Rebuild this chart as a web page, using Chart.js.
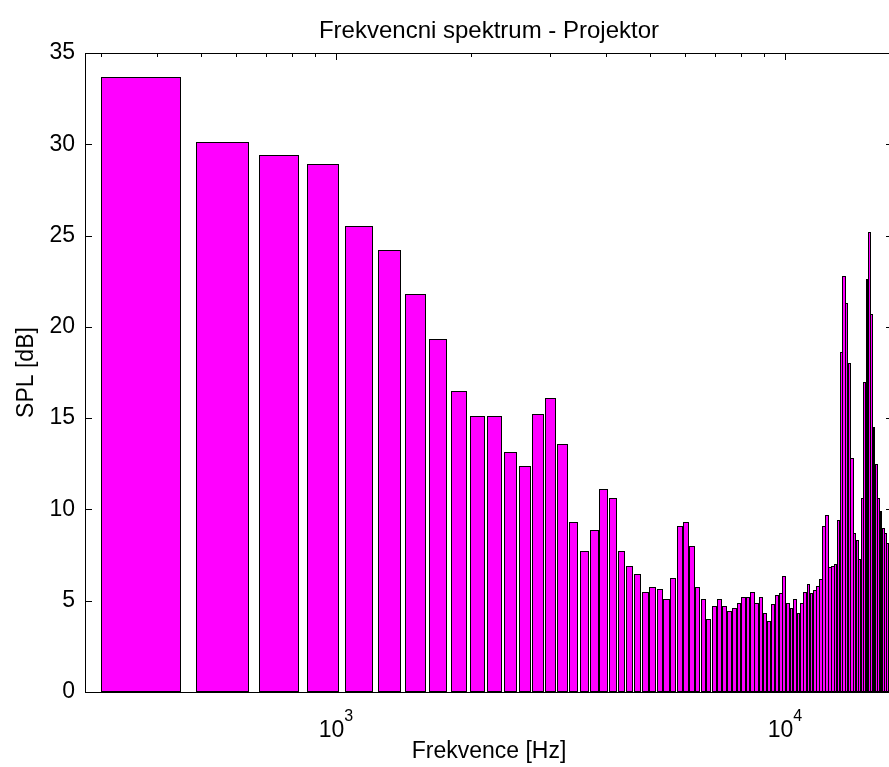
<!DOCTYPE html>
<html>
<head>
<meta charset="utf-8">
<title>Frekvencni spektrum - Projektor</title>
<script src="https://cdn.jsdelivr.net/npm/chart.js@4.4.1/dist/chart.umd.min.js"></script>
<style>
  html, body { margin: 0; padding: 0; background: #fff; overflow: hidden; }
  canvas { display: block; }
</style>
</head>
<body>
<canvas id="spektrum" width="897" height="767"></canvas>
<script>
// stredy pasem [Hz]
const frekvence = [
  375, 562.5, 750, 937.5, 1125, 1312.5, 1500, 1687.5, 1875, 2062.5,
  2250, 2437.5, 2625, 2812.5, 3000, 3187.5, 3375, 3562.5, 3750, 3937.5,
  4125, 4312.5, 4500, 4687.5, 4875, 5062.5, 5250, 5437.5, 5625, 5812.5,
  6000, 6187.5, 6375, 6562.5, 6750, 6937.5, 7125, 7312.5, 7500, 7687.5,
  7875, 8062.5, 8250, 8437.5, 8625, 8812.5, 9000, 9187.5, 9375, 9562.5,
  9750, 9937.5, 10125, 10312.5, 10500, 10687.5, 10875, 11062.5, 11250, 11437.5,
  11625, 11812.5, 12000, 12187.5, 12375, 12562.5, 12750, 12937.5, 13125, 13312.5,
  13500, 13687.5, 13875, 14062.5, 14250, 14437.5, 14625, 14812.5, 15000, 15187.5,
  15375, 15562.5, 15750, 15937.5, 16125, 16312.5, 16500, 16687.5, 16875, 17062.5,
];

// SPL [dB]
const hladiny = [
  33.7, 30.1, 29.4, 28.9, 25.5, 24.2, 21.8, 19.35, 16.5, 15.1,
  15.1, 13.15, 12.4, 15.2, 16.1, 13.6, 9.3, 7.7, 8.9, 11.1,
  10.6, 7.7, 6.9, 6.45, 5.5, 5.75, 5.65, 5.1, 6.25, 9.1,
  9.3, 8.0, 5.75, 5.1, 4.0, 4.7, 5.1, 4.7, 4.45, 4.6,
  4.9, 5.2, 5.2, 5.5, 4.9, 5.2, 4.3, 3.9, 4.8, 5.3,
  5.4, 6.35, 4.9, 4.6, 5.1, 4.3, 4.9, 5.5, 5.9, 5.4,
  5.6, 5.8, 6.2, 9.1, 9.7, 6.85, 6.9, 7.0, 9.4, 18.6,
  22.8, 21.3, 18.0, 12.8, 8.7, 8.3, 7.3, 10.6, 17.0, 22.6,
  25.2, 20.7, 14.5, 12.5, 10.6, 9.9, 9.0, 8.7, 8.15, 7.05,
];

const xHlavniTicky = [1000, 10000];
const xExponenty = ["3", "4"];

const SIRKA_SLOUPCE = 150; // Hz, 0.8 * krok 187.5 Hz
const PISMO = "'Liberation Sans', Arial, Helvetica, sans-serif";
const VELIKOST = 23;

const matlabOsy = {
  id: "matlabOsy",
  beforeDatasetsDraw(chart) {
    const x = chart.scales.x;
    const y = chart.scales.y;
    const a = chart.chartArea;
    const ctx = chart.ctx;

    // sloupce maji konstantni sirku v Hz, na log ose se zuzuji
    chart.getDatasetMeta(0).data.forEach((bar, i) => {
      const left = Math.round(x.getPixelForValue(frekvence[i] - SIRKA_SLOUPCE / 2));
      const right = Math.round(x.getPixelForValue(frekvence[i] + SIRKA_SLOUPCE / 2)) + 1;
      bar.x = (left + right) / 2;
      bar.width = right - left;
      bar.y = Math.round(bar.y);
    });

    ctx.save();
    ctx.strokeStyle = "#000";
    ctx.lineWidth = 1;
    ctx.beginPath();
    x.ticks.forEach((t) => {
      const v = t.value;
      const exp = Math.floor(Math.log10(v) + 1e-9);
      const sig = v / Math.pow(10, exp);
      if (Math.abs(sig - Math.round(sig)) > 1e-6) return;
      const len = Math.round(sig) === 1 ? 7 : 4;
      const px = Math.round(x.getPixelForValue(v)) + 0.5;
      ctx.moveTo(px, a.top);
      ctx.lineTo(px, a.top + len);
      ctx.moveTo(px, a.bottom);
      ctx.lineTo(px, a.bottom - len);
    });
    y.ticks.forEach((t) => {
      const py = Math.round(y.getPixelForValue(t.value)) + 0.5;
      ctx.moveTo(a.left, py);
      ctx.lineTo(a.left + 7, py);
      ctx.moveTo(a.right, py);
      ctx.lineTo(a.right - 7, py);
    });
    ctx.stroke();
    ctx.restore();

    // sedy stin vpravo od sloupcu jako v MATLABu
    ctx.save();
    ctx.shadowColor = "rgba(0, 0, 0, 0.45)";
    ctx.shadowOffsetX = 1;
    ctx.shadowOffsetY = 0;
    ctx.shadowBlur = 0;
  },
  afterDatasetsDraw(chart) {
    const x = chart.scales.x;
    const a = chart.chartArea;
    const ctx = chart.ctx;
    ctx.restore();

    ctx.save();
    ctx.strokeStyle = "#000";
    ctx.lineWidth = 1;
    const l = Math.round(a.left), t = Math.round(a.top);
    ctx.strokeRect(l + 0.5, t + 0.5, Math.round(a.right) - l, Math.round(a.bottom) - t);

    // popisky 10^3, 10^4
    ctx.fillStyle = "#000";
    ctx.textAlign = "left";
    ctx.textBaseline = "alphabetic";
    xHlavniTicky.forEach((v, i) => {
      const px = x.getPixelForValue(v);
      ctx.font = VELIKOST + "px " + PISMO;
      const wBase = ctx.measureText("10").width;
      ctx.font = "16px " + PISMO;
      const wExp = ctx.measureText(xExponenty[i]).width;
      const start = px - (wBase + wExp) / 2;
      ctx.font = VELIKOST + "px " + PISMO;
      ctx.fillText("10", start, 737);
      ctx.font = "16px " + PISMO;
      ctx.fillText(xExponenty[i], start + wBase, 721);
    });
    ctx.restore();
  },
};

const canvas = document.getElementById("spektrum");
new Chart(canvas, {
  type: "bar",
  data: {
    datasets: [
      {
        data: frekvence.map((f, i) => ({ x: f, y: hladiny[i] })),
        backgroundColor: "#ff00ff",
        borderColor: "#000000",
        borderWidth: 1,
        borderSkipped: false,
      },
    ],
  },
  options: {
    responsive: false,
    devicePixelRatio: 1,
    animation: false,
    layout: { padding: { left: 0, right: 4, top: 0, bottom: 0 } },
    scales: {
      x: {
        type: "logarithmic",
        min: 276.1,
        max: 17400,
        offset: false,
        grid: { display: false, drawTicks: false },
        border: { display: false },
        ticks: { display: false },
        title: {
          display: true,
          text: "Frekvence [Hz]",
          color: "#000",
          font: { family: PISMO, size: VELIKOST },
          padding: { top: 0, bottom: 1.2 },
        },
        afterFit: (s) => { s.height = 75; },
      },
      y: {
        min: 0,
        max: 35,
        grid: { display: false, drawTicks: false },
        border: { display: false },
        ticks: {
          stepSize: 5,
          color: "#000",
          font: { family: PISMO, size: VELIKOST },
          padding: 10,
        },
        title: {
          display: true,
          text: "SPL [dB]",
          color: "#000",
          font: { family: PISMO, size: VELIKOST },
          padding: { top: 13.2, bottom: 0 },
        },
        afterFit: (s) => { s.width = 85; },
      },
    },
    plugins: {
      legend: { display: false },
      tooltip: { enabled: false },
      title: {
        display: true,
        text: "Frekvencni spektrum - Projektor",
        color: "#000",
        fullSize: false,
        font: { family: PISMO, size: 24, weight: "normal" },
        padding: { top: 16.7, bottom: 7.5 },
      },
    },
  },
  plugins: [matlabOsy],
});
</script>
</body>
</html>
